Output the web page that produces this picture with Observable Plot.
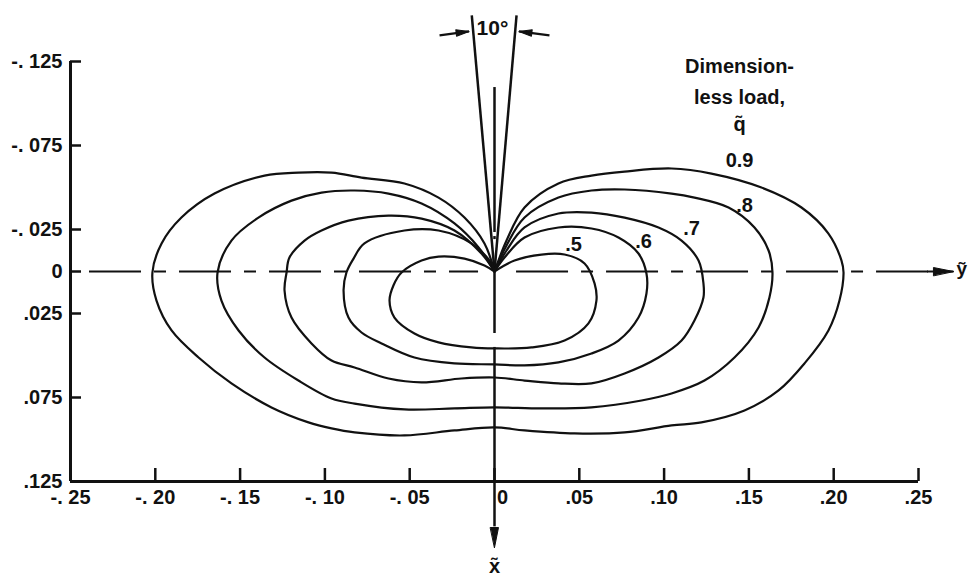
<!DOCTYPE html>
<html>
<head>
<meta charset="utf-8">
<script src="https://cdn.jsdelivr.net/npm/d3@7"></script>
<script src="https://cdn.jsdelivr.net/npm/@observablehq/plot@0.6"></script>
<style>
  html, body { margin: 0; padding: 0; background: #fff; }
  #chart svg { display: block; }
</style>
</head>
<body>
<div id="chart"></div>
<script>
const FONT = '"Liberation Sans", Arial, sans-serif';
const INK = "#111";

// Dimensionless load levels and their labels
const loads = [0.5, 0.6, 0.7, 0.8, 0.9];
const loadLabels = [".5", ".6", ".7", ".8", "0.9"];
const loadLabelAt = [[0.0466, -0.0161], [0.0879, -0.0179], [0.1162, -0.0256], [0.1474, -0.0393], [0.1445, -0.0661]];

// Contour traces, [y~, x~] pairs, each starting and ending at the origin
const curve05 = [[0,0],[-0.0059,-0.0036],[-0.0177,-0.0077],[-0.0330,-0.0089],[-0.0430,-0.0065],[-0.0548,0.0006],[-0.0596,0.0083],[-0.0619,0.0173],[-0.0590,0.0274],[-0.0472,0.0369],[-0.0330,0.0422],[-0.0136,0.0452],[0,0.0458],[0.0218,0.0452],[0.0413,0.0411],[0.0554,0.0309],[0.0601,0.0173],[0.0590,0.0071],[0.0531,-0.0048],[0.0413,-0.0101],[0.0277,-0.0101],[0.0118,-0.0065],[0,0]];
const curve06 = [[0,0],[-0.0018,-0.0048],[-0.0136,-0.0167],[-0.0330,-0.0244],[-0.0531,-0.0244],[-0.0767,-0.0167],[-0.0831,-0.0077],[-0.0873,0.0006],[-0.0890,0.0113],[-0.0861,0.0274],[-0.0784,0.0363],[-0.0666,0.0428],[-0.0472,0.0512],[-0.0236,0.0547],[0,0.0553],[0.0177,0.0559],[0.0377,0.0541],[0.0572,0.0488],[0.0731,0.0411],[0.0849,0.0274],[0.0896,0.0131],[0.0896,0.0012],[0.0849,-0.0107],[0.0731,-0.0202],[0.0572,-0.0256],[0.0377,-0.0262],[0.0177,-0.0202],[0.0059,-0.0083],[0,0]];
const curve07 = [[0,0],[-0.0077,-0.0107],[-0.0236,-0.0244],[-0.0430,-0.0315],[-0.0625,-0.0333],[-0.0861,-0.0303],[-0.1020,-0.0244],[-0.1120,-0.0184],[-0.1209,-0.0083],[-0.1226,0.0006],[-0.1238,0.0113],[-0.1197,0.0274],[-0.1079,0.0428],[-0.0961,0.0530],[-0.0825,0.0571],[-0.0625,0.0637],[-0.0430,0.0660],[-0.0195,0.0637],[0,0.0631],[0.0177,0.0649],[0.0377,0.0666],[0.0572,0.0666],[0.0767,0.0607],[0.0967,0.0512],[0.1103,0.0411],[0.1179,0.0292],[0.1232,0.0155],[0.1232,0.0071],[0.1203,-0.0065],[0.1103,-0.0184],[0.0967,-0.0262],[0.0767,-0.0321],[0.0572,-0.0351],[0.0377,-0.0345],[0.0177,-0.0262],[0.0071,-0.0125],[0,0]];
const curve08 = [[0,0],[-0.0094,-0.0143],[-0.0236,-0.0286],[-0.0430,-0.0405],[-0.0625,-0.0464],[-0.0825,-0.0482],[-0.1020,-0.0470],[-0.1197,-0.0422],[-0.1392,-0.0321],[-0.1551,-0.0184],[-0.1633,0.0006],[-0.1610,0.0173],[-0.1509,0.0351],[-0.1356,0.0512],[-0.1156,0.0649],[-0.0961,0.0756],[-0.0825,0.0786],[-0.0531,0.0821],[-0.0236,0.0815],[0,0.0809],[0.0277,0.0815],[0.0572,0.0809],[0.0867,0.0768],[0.1044,0.0726],[0.1238,0.0649],[0.1415,0.0512],[0.1557,0.0333],[0.1621,0.0155],[0.1639,0.0006],[0.1616,-0.0125],[0.1533,-0.0262],[0.1380,-0.0381],[0.1179,-0.0440],[0.1044,-0.0464],[0.0767,-0.0488],[0.0572,-0.0482],[0.0377,-0.0440],[0.0177,-0.0321],[0.0071,-0.0155],[0,0]];
const curve09 = [[0,0],[-0.0059,-0.0167],[-0.0177,-0.0321],[-0.0330,-0.0440],[-0.0531,-0.0524],[-0.0784,-0.0559],[-0.0961,-0.0589],[-0.1156,-0.0589],[-0.1356,-0.0571],[-0.1651,-0.0464],[-0.1846,-0.0321],[-0.1963,-0.0167],[-0.2017,0.0006],[-0.1993,0.0173],[-0.1904,0.0351],[-0.1745,0.0512],[-0.1551,0.0666],[-0.1315,0.0809],[-0.1097,0.0898],[-0.0961,0.0934],[-0.0825,0.0958],[-0.0531,0.0976],[-0.0236,0.0946],[0,0.0928],[0.0177,0.0946],[0.0472,0.0964],[0.0767,0.0958],[0.1044,0.0916],[0.1220,0.0898],[0.1474,0.0827],[0.1675,0.0708],[0.1828,0.0547],[0.1969,0.0351],[0.2034,0.0173],[0.2058,0.0006],[0.2046,-0.0065],[0.1969,-0.0226],[0.1810,-0.0381],[0.1574,-0.0500],[0.1279,-0.0583],[0.1044,-0.0613],[0.0767,-0.0595],[0.0572,-0.0571],[0.0377,-0.0524],[0.0177,-0.0381],[0.0071,-0.0184],[0,0]];
const curves = [curve05, curve06, curve07, curve08, curve09];

// Tick values and their printed labels
const xTicks = [-0.25, -0.2, -0.15, -0.1, -0.05, 0, 0.05, 0.1, 0.15, 0.2, 0.25];
const xTickLabels = ["-. 25", "-. 20", "-. 15", "-. 10", "-. 05", "0", ".05", ".10", ".15", ".20", ".25"];
const yTicks = [-0.125, -0.075, -0.025, 0, 0.025, 0.075, 0.125];
const yTickLabels = ["-. 125", "-. 075", "-. 025", "0", ".025", ".075", ".125"];

// Centre lines: y~ axis (dashed, broken at the origin) and x~ axis
const yAxisSegments = [[-0.2388, -0.0094], [0.013, 0.262]];
const xAxisSegments = [[-0.1095, -0.0232], [-0.0208, -0.0190], [0, 0.0369], [0.0452, 0.152]];
const yArrowTip = [0.2706, 0];
const xArrowTip = [0, 0.1643];

// 10-degree wedge about the x~ axis and its dimension arrows
const wedgeEnds = [[-0.0134, -0.1524], [0.0130, -0.1524]];
const dimArrows = [
  {h1: -0.0324, v1: -0.1405, h2: -0.0150, v2: -0.1429, rot: 83},
  {h1: 0.0324, v1: -0.1405, h2: 0.0144, v2: -0.1429, rot: -83}
];

// Legend heading lines
const legendLines = ["Dimension-", "less load,", "q\u0303"];
const legendAt = [[0.1445, -0.1220], [0.1445, -0.1036], [0.1445, -0.0875]];

const rows = curves.flatMap((pts, i) => pts.map(([h, v]) => ({q: loads[i], h, v})));
const labelRows = loads.map((q, i) => ({t: loadLabels[i], h: loadLabelAt[i][0], v: loadLabelAt[i][1]}));
const legendRows = legendLines.map((t, i) => ({t, h: legendAt[i][0], v: legendAt[i][1]}));

// Narrow filled arrowhead, drawn pointing up before rotation
const headShape = {
  draw(context, l, r) {
    context.moveTo(0, -l);
    context.lineTo(-r, 0);
    context.lineTo(r, 0);
    context.closePath();
  }
};

const chart = Plot.plot({
  width: 969,
  height: 577,
  marginLeft: 70,
  marginRight: 51,
  marginTop: 61,
  marginBottom: 96,
  x: {domain: [-0.25, 0.25]},
  y: {domain: [-0.125, 0.125], reverse: true},
  style: {fontFamily: FONT, fontSize: "20px", fontWeight: "bold", color: INK, background: "#fff", overflow: "visible"},
  marks: [
    // frame: left and bottom axes only
    Plot.ruleX([-0.25], {stroke: INK, strokeWidth: 3}),
    Plot.ruleY([0.125], {stroke: INK, strokeWidth: 3}),
    Plot.axisY(yTicks, {
      anchor: "left", tickSize: -11, tickPadding: 19, strokeWidth: 2.5, stroke: INK,
      tickFormat: d => yTickLabels[yTicks.indexOf(d)], fontSize: 20
    }),
    Plot.axisX(xTicks, {
      anchor: "bottom", tickSize: -13, tickPadding: 21, strokeWidth: 2.5, stroke: INK,
      tickFormat: d => d === 0 ? "" : xTickLabels[xTicks.indexOf(d)], fontSize: 20
    }),
    Plot.text([0], {x: d => d, y: () => 0.125, text: () => xTickLabels[xTicks.indexOf(0)], dx: 8, dy: 8, lineAnchor: "top", fontSize: 20, fill: INK}),

    // centre lines
    Plot.ruleY(yAxisSegments, {y: () => 0, x1: d => d[0], x2: d => d[1], stroke: INK, strokeWidth: 2, strokeDasharray: "52,13,12,13"}),
    Plot.ruleX(xAxisSegments, {x: () => 0, y1: d => d[0], y2: d => d[1], stroke: INK, strokeWidth: 2.5}),
    Plot.link([yArrowTip], {x1: () => 0.255, y1: () => 0, x2: d => d[0], y2: d => d[1], stroke: INK, strokeWidth: 2}),
    Plot.vector([yArrowTip], {x: d => d[0], y: d => d[1], length: 20, r: 4, rotate: 90, anchor: "end", shape: headShape, fill: INK, stroke: INK, strokeWidth: 1}),
    Plot.vector([xArrowTip], {x: d => d[0], y: d => d[1], length: 20, r: 4, rotate: 180, anchor: "end", shape: headShape, fill: INK, stroke: INK, strokeWidth: 1}),
    Plot.text([{t: "\u1EF9", h: 0.2724, v: -0.0018}], {x: "h", y: "v", text: "t", textAnchor: "start", fontSize: 19, fill: INK}),
    Plot.text([{t: "x\u0303", h: 0, v: 0.1756}], {x: "h", y: "v", text: "t", fontSize: 20, fill: INK}),

    // 10-degree wedge
    Plot.link(wedgeEnds, {x1: () => 0, y1: () => 0, x2: d => d[0], y2: d => d[1], stroke: INK, strokeWidth: 2.5}),
    Plot.link(dimArrows, {x1: "h1", y1: "v1", x2: "h2", y2: "v2", stroke: INK, strokeWidth: 2.2}),
    Plot.vector(dimArrows, {x: "h2", y: "v2", length: 13, r: 3.2, rotate: "rot", anchor: "end", shape: headShape, fill: INK, stroke: INK, strokeWidth: 1}),
    Plot.text([{t: "10\u00B0", h: -0.0012, v: -0.1446}], {x: "h", y: "v", text: "t", fontSize: 21, fill: INK}),

    // load contours
    Plot.line(rows, {x: "h", y: "v", z: "q", curve: "catmull-rom", stroke: INK, strokeWidth: 2.2}),
    Plot.text(labelRows, {x: "h", y: "v", text: "t", fontSize: 20, fill: INK}),
    Plot.text(legendRows, {x: "h", y: "v", text: "t", fontSize: 20, fill: INK})
  ]
});

document.getElementById("chart").appendChild(chart);
</script>
</body>
</html>
